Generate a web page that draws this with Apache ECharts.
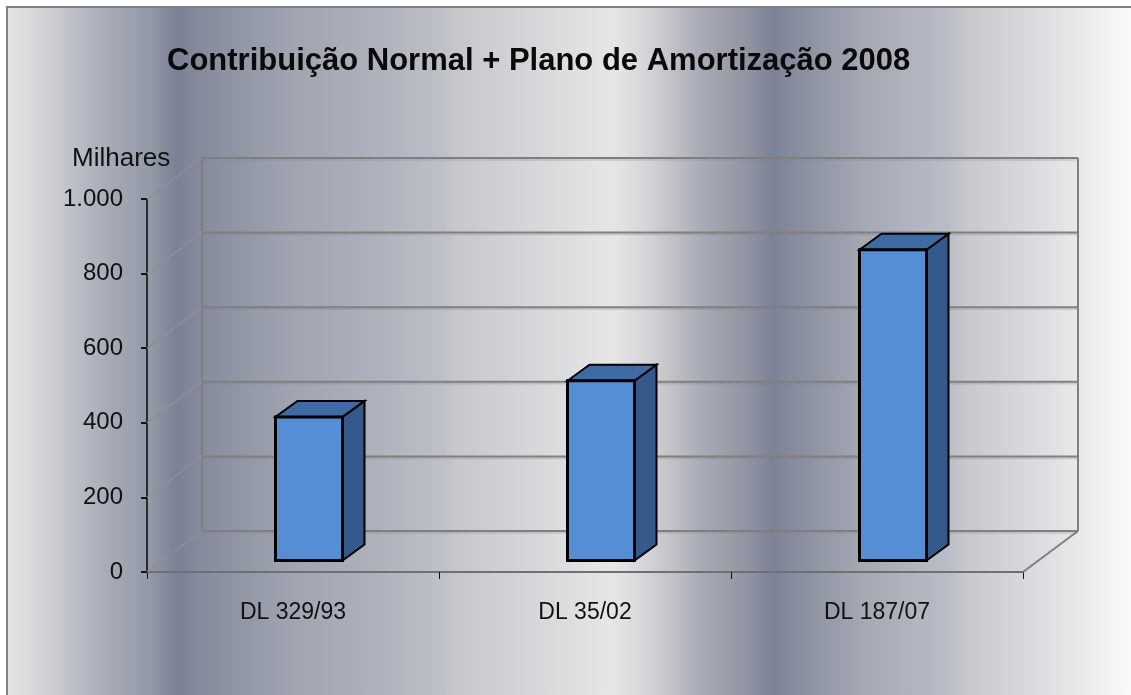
<!DOCTYPE html>
<html>
<head>
<meta charset="utf-8">
<style>
  html, body { margin: 0; padding: 0; background: #fff; }
  #myChart { width: 1131px; height: 695px; }
</style>
</head>
<body>
<div id="myChart"></div>
<script src="https://cdn.jsdelivr.net/npm/echarts@6/dist/echarts.min.js"></script>
<script>
  const chartTitle = 'Contribuição Normal + Plano de Amortização 2008'
  const unitLabel = 'Milhares'
  const categories = ['DL 329/93', 'DL 35/02', 'DL 187/07']
  const values = [385, 482, 833]
  const yTicks = [0, 200, 400, 600, 800, 1000]

  // fake 3D depth, in pixels
  const wallDepth = [55, 41]
  const barShift = [16, 11.5]
  const barDepth = [22, 16]
  const barWidth = 67
  const font = '"Liberation Sans", Arial, sans-serif'

  // x position -> colour of the background bands
  const bgStops = [
    [7, '#e6e6e6'], [60, '#c9cacf'], [70, '#bec2cc'], [115, '#a4a8b4'], [150, '#939aa8'],
    [177, '#7b8196'], [200, '#858b9c'], [290, '#a0a4b1'], [380, '#aeb2bd'], [445, '#bfc1c8'],
    [455, '#c6c7cb'], [520, '#d3d4d7'], [610, '#e6e6e6'], [622, '#e2e2e3'], [650, '#d2d3d7'],
    [668, '#c5c5c9'], [700, '#a9acb8'], [735, '#989aa6'], [755, '#8b8f9f'], [772, '#7c8297'],
    [810, '#8e93a3'], [860, '#a4a8b3'], [948, '#babdc7'], [964, '#c7c8cc'], [1040, '#dcdde0'],
    [1131, '#fafafa']
  ]
  const bgLeft = 7
  const bgWidth = 1131 - bgLeft

  function line(x1, y1, x2, y2, color, width) {
    return {
      type: 'line',
      shape: { x1, y1, x2, y2 },
      style: { stroke: color, lineWidth: width, fill: null }
    }
  }

  function renderWall(params, api) {
    const sys = params.coordSys
    const v = api.value(1)
    const y = api.coord([0, v])[1]
    const left = sys.x
    const right = sys.x + sys.width
    const backLeft = left + wallDepth[0]
    const backRight = right + wallDepth[0]
    const backY = y - wallDepth[1]
    const children = [
      line(left, y, backLeft, backY, '#8f8f8f', 1.5),
      line(backLeft, backY + 2, backRight, backY + 2, 'rgba(128,128,128,0.3)', 1.5),
      line(backLeft, backY, backRight, backY, '#7f7f7f', 2)
    ]
    if (v === 0) {
      const topY = api.coord([0, yTicks[yTicks.length - 1]])[1] - wallDepth[1]
      children.push(line(backLeft, topY, backLeft, backY, '#7f7f7f', 2))
      children.push(line(backRight, topY, backRight, backY, '#7f7f7f', 2))
      children.push(line(right, y, backRight, backY, '#7f7f7f', 2))
    }
    return { type: 'group', children }
  }

  function renderBar(params, api) {
    const top = api.coord([api.value(0), api.value(1)])
    const base = api.coord([api.value(0), 0])
    const x0 = top[0] + barShift[0] - barWidth / 2
    const x1 = x0 + barWidth
    const y0 = top[1] - barShift[1]
    const y1 = base[1] - barShift[1]
    const dx = barDepth[0]
    const dy = barDepth[1]
    const edge = { stroke: '#000', lineWidth: 2, lineJoin: 'miter' }
    return {
      type: 'group',
      children: [
        {
          type: 'polygon',
          shape: { points: [[x1, y0], [x1 + dx, y0 - dy], [x1 + dx, y1 - dy], [x1, y1]] },
          style: Object.assign({ fill: '#34598a' }, edge)
        },
        {
          type: 'polygon',
          shape: { points: [[x0, y0], [x0 + dx, y0 - dy], [x1 + dx, y0 - dy], [x1, y0]] },
          style: Object.assign({ fill: '#3f6aa3' }, edge)
        },
        {
          type: 'rect',
          shape: { x: x0, y: y0, width: barWidth, height: y1 - y0 },
          style: { fill: '#558ed5', stroke: '#000', lineWidth: 3 }
        }
      ]
    }
  }

  let myChart = echarts.init(document.getElementById('myChart'))
  myChart.setOption({
    animation: false,
    title: [
      {
        text: chartTitle,
        left: 167,
        top: 46,
        padding: 0,
        textStyle: { fontFamily: font, fontSize: 31, fontWeight: 'bold', color: '#0a0a0a' }
      },
      {
        text: unitLabel,
        left: 72,
        top: 146,
        padding: 0,
        textStyle: { fontFamily: font, fontSize: 26, fontWeight: 'normal', color: '#111' }
      }
    ],
    graphic: [{
      type: 'rect',
      z: -10,
      silent: true,
      shape: { x: bgLeft, y: bgLeft, width: bgWidth + 10, height: 700 },
      style: {
        stroke: '#808080',
        lineWidth: 2,
        fill: new echarts.graphic.LinearGradient(0, 0, 1, 0,
          bgStops.map(s => ({ offset: (s[0] - bgLeft) / (bgWidth + 10), color: s[1] })))
      }
    }],
    grid: { left: 147, top: 199, width: 876, height: 373, containLabel: false },
    xAxis: {
      type: 'category',
      data: categories,
      axisLine: { lineStyle: { color: '#707070', width: 2 } },
      axisTick: { show: true, length: 7, alignWithLabel: false, lineStyle: { color: '#111', width: 1 } },
      axisLabel: { color: '#111', fontFamily: font, fontSize: 23, margin: 29 }
    },
    yAxis: {
      type: 'value',
      min: 0,
      max: 1000,
      interval: 200,
      splitLine: { show: false },
      axisLine: { show: true, lineStyle: { color: '#2a2a2a', width: 2 } },
      axisTick: { show: true, length: 6, lineStyle: { color: '#111', width: 2 } },
      axisLabel: {
        color: '#111',
        fontFamily: font,
        fontSize: 24,
        margin: 24,
        formatter: v => (v >= 1000 ? (v / 1000) + '.' + String(v % 1000).padStart(3, '0') : String(v))
      }
    },
    series: [
      {
        type: 'custom',
        z: 1,
        silent: true,
        renderItem: renderWall,
        data: yTicks.map(v => [0, v])
      },
      {
        type: 'custom',
        z: 2,
        renderItem: renderBar,
        data: values.map((v, i) => [i, v])
      }
    ]
  })
</script>
</body>
</html>
